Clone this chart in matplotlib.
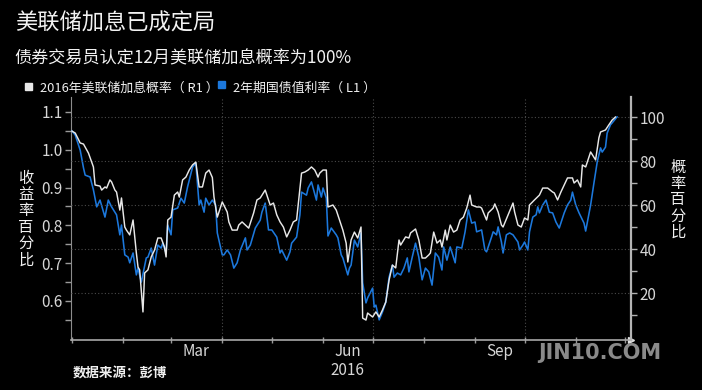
import matplotlib
matplotlib.use('Agg')
import matplotlib.pyplot as plt
import matplotlib.dates as mdates
import matplotlib.ticker as mticker
from matplotlib.patches import Rectangle
import pandas as pd

plt.rcParams['font.family'] = ['Noto Sans CJK SC', 'DejaVu Sans']

# days counted from 2016-01-01
prob_days = [0, 2, 5, 7, 10, 13, 14, 17, 18, 20, 21, 23, 24, 26, 27, 29, 30, 32, 33, 35,
             37, 39, 40, 41, 43, 44, 46, 48, 50, 52, 54, 56, 57, 58, 60, 62, 64, 65, 67, 69,
             71, 73, 75, 77, 79, 81, 83, 85, 86, 88, 89, 91, 94, 95, 97, 100, 101, 103, 105, 107,
             110, 112, 114, 117, 118, 120, 122, 124, 126, 128, 130, 132, 134, 136, 139, 141, 143, 145, 147, 149,
             150, 152, 154, 155, 158, 160, 162, 164, 166, 167, 169, 171, 173, 175, 176, 178, 179, 182, 184, 186,
             188, 190, 192, 194, 196, 198, 199, 202, 204, 205, 208, 210, 212, 214, 216, 217, 219, 221, 223, 224,
             226, 227, 229, 231, 233, 235, 237, 239, 241, 242, 245, 247, 248, 251, 252, 255, 256, 258, 260, 261,
             264, 267, 268, 270, 272, 274, 276, 277, 280, 283, 285, 288, 291, 292, 294, 296, 298, 300, 303, 304,
             306, 308, 309, 311, 314, 317, 319, 320, 323, 325, 327, 329]
prob_vals = [93.6, 92.7, 88.2, 87.7, 83.6, 77.3, 69.1, 68.6, 66.8, 68.2, 67.7, 71.4, 70.5, 66.8, 65.9, 57.7, 63.2, 50.0, 48.6, 46.4,
             53.2, 38.2, 31.8, 30.5, 11.4, 29.1, 30.5, 36.4, 39.5, 45.0, 45.0, 40.9, 36.4, 53.2, 54.5, 64.5, 65.9, 63.6, 71.4, 72.7,
             75.9, 78.2, 79.5, 68.2, 68.2, 74.5, 75.9, 72.5, 63.6, 54.5, 56.8, 61.4, 56.8, 52.3, 48.6, 48.6, 50.9, 52.3, 50.9, 49.5,
             56.4, 62.3, 63.2, 66.8, 64.5, 60.0, 60.9, 55.5, 52.3, 50.0, 45.5, 48.6, 52.3, 53.2, 74.5, 75.0, 75.9, 77.3, 75.9, 72.7,
             74.5, 75.9, 75.9, 59.1, 60.0, 57.7, 53.2, 48.6, 42.7, 34.1, 44.1, 47.7, 45.0, 50.0, 8.6, 7.7, 10.9, 9.1, 11.4, 9.1,
             12.3, 15.9, 25.9, 32.7, 31.4, 44.1, 41.8, 45.5, 45.0, 47.3, 49.1, 44.1, 35.9, 35.9, 37.3, 38.2, 47.7, 42.7, 44.1, 40.9,
             48.6, 44.1, 50.9, 47.7, 48.6, 53.2, 54.5, 58.6, 64.5, 60.0, 59.1, 59.1, 58.6, 53.2, 56.4, 58.6, 60.5, 56.8, 50.9, 50.0,
             55.5, 60.9, 56.8, 50.9, 50.0, 54.1, 53.2, 60.0, 62.3, 64.5, 67.7, 67.7, 65.9, 65.5, 62.3, 65.9, 69.1, 72.3, 72.3, 70.0,
             71.4, 68.2, 78.2, 77.3, 84.1, 80.5, 90.5, 93.2, 94.1, 96.4, 98.6, 100.0]

yield_days = [0, 2, 5, 7, 8, 11, 13, 15, 17, 20, 22, 24, 27, 29, 30, 32, 34, 35, 37, 39,
              40, 42, 45, 46, 48, 50, 52, 54, 55, 57, 58, 60, 61, 64, 66, 68, 70, 73, 75, 77,
              78, 80, 81, 83, 85, 87, 88, 91, 92, 94, 96, 98, 100, 102, 105, 106, 108, 111, 114, 115,
              117, 119, 121, 124, 126, 127, 130, 132, 133, 136, 138, 139, 142, 143, 145, 148, 149, 151, 152, 154,
              155, 157, 160, 161, 163, 164, 167, 168, 169, 171, 173, 175, 176, 178, 179, 182, 183, 184, 186, 188,
              190, 192, 194, 195, 197, 199, 201, 203, 204, 206, 208, 210, 212, 214, 216, 218, 220, 222, 224, 225,
              227, 229, 232, 233, 236, 238, 240, 242, 244, 245, 248, 250, 251, 254, 255, 257, 258, 260, 261, 263,
              265, 267, 270, 271, 273, 274, 276, 277, 279, 281, 282, 283, 285, 287, 289, 291, 293, 295, 297, 298,
              300, 302, 303, 305, 307, 310, 311, 314, 316, 318, 320, 321, 323, 324, 326, 327, 330]
yield_vals = [1.050, 1.039, 0.999, 0.952, 0.933, 0.928, 0.894, 0.849, 0.867, 0.822, 0.867, 0.849, 0.828, 0.775, 0.801, 0.722, 0.716, 0.701, 0.727, 0.669,
              0.687, 0.650, 0.714, 0.716, 0.740, 0.695, 0.748, 0.740, 0.753, 0.727, 0.801, 0.775, 0.841, 0.846, 0.872, 0.859, 0.902, 0.954, 0.965, 0.854,
              0.867, 0.835, 0.872, 0.854, 0.867, 0.854, 0.780, 0.722, 0.722, 0.735, 0.722, 0.687, 0.701, 0.735, 0.767, 0.735, 0.748, 0.793, 0.814, 0.835,
              0.859, 0.788, 0.788, 0.769, 0.727, 0.735, 0.708, 0.730, 0.753, 0.769, 0.828, 0.888, 0.880, 0.899, 0.915, 0.867, 0.907, 0.875, 0.899, 0.872,
              0.772, 0.793, 0.775, 0.767, 0.722, 0.714, 0.669, 0.687, 0.695, 0.761, 0.743, 0.780, 0.648, 0.595, 0.608, 0.634, 0.584, 0.589, 0.550, 0.571,
              0.597, 0.663, 0.695, 0.663, 0.674, 0.669, 0.687, 0.714, 0.677, 0.716, 0.753, 0.716, 0.656, 0.687, 0.677, 0.642, 0.727, 0.716, 0.682, 0.743,
              0.708, 0.743, 0.701, 0.743, 0.740, 0.783, 0.841, 0.806, 0.809, 0.783, 0.788, 0.735, 0.730, 0.769, 0.783, 0.775, 0.796, 0.756, 0.727, 0.775,
              0.780, 0.775, 0.756, 0.735, 0.748, 0.756, 0.735, 0.783, 0.822, 0.828, 0.849, 0.833, 0.854, 0.867, 0.835, 0.833, 0.809, 0.793, 0.820, 0.833,
              0.854, 0.867, 0.888, 0.854, 0.833, 0.806, 0.785, 0.854, 0.912, 0.968, 1.005, 0.994, 1.007, 1.044, 1.066, 1.071, 1.087]

title = '美联储加息已成定局'
subtitle = '债券交易员认定12月美联储加息概率为100%'
prob_label = '2016年美联储加息概率（ R1 ）'
yield_label = '2年期国债值利率（ L1 ）'
left_title = '收益率百分比'
right_title = '概率百分比'
source = '数据来源：彭博'
month_labels = ['Mar', 'Jun\n2016', 'Sep']
month_label_dates = ['2016-03-16', '2016-06-16', '2016-09-16']
quarter_dates = ['2016-04-01', '2016-07-01', '2016-10-01']
left_ticks = [0.6, 0.7, 0.8, 0.9, 1.0, 1.1]
left_minor = [0.55, 0.65, 0.75, 0.85, 0.95, 1.05]
right_ticks = [20, 40, 60, 80, 100]
right_minor = [10, 30, 50, 70, 90]

WHITE = '#e8e8e8'
BLUE = '#1c78dc'
TICK = '#d6d6d6'
GRID = '#4a4a4a'

start = pd.Timestamp('2016-01-01')
prob_dates = start + pd.to_timedelta(prob_days, unit='D')
yield_dates = start + pd.to_timedelta(yield_days, unit='D')

fig = plt.figure(figsize=(7.02, 3.9), dpi=100, facecolor='black')
ax = fig.add_axes([0.1011, 0.1282, 0.7977, 0.6231])
ax.set_facecolor('black')
ax2 = ax.twinx()

ax.plot(yield_dates, yield_vals, color=BLUE, lw=1.15, zorder=3)
ax2.plot(prob_dates, prob_vals, color=WHITE, lw=1.05, zorder=3)

ax.set_xlim(start - pd.Timedelta(hours=14), start + pd.Timedelta(days=338, hours=10))
ax.set_ylim(0.4968, 1.1397)
ax2.set_ylim(-1.36, 109.1)

# left axis
ax.set_yticks(left_ticks)
ax.set_yticks(left_minor, minor=True)
ax.yaxis.set_major_formatter(mticker.FormatStrFormatter('%.1f'))
ax.tick_params(axis='y', which='both', direction='out', length=4, width=1,
               color='#9a9a9a', labelcolor=TICK, labelsize=11, pad=2)

# right axis
ax2.set_yticks(right_ticks)
ax2.set_yticks(right_minor, minor=True)
ax2.tick_params(axis='y', which='both', direction='out', length=4, width=1,
                color='#b0b0b0', labelcolor=TICK, labelsize=11, pad=2)
ax2.yaxis.grid(True, which='major', color=GRID, linestyle=(0, (1, 2)), lw=0.8)
ax2.set_axisbelow(True)

# x axis: month ticks, labels mid-month
ax.xaxis.set_major_locator(mdates.MonthLocator())
ax.xaxis.set_major_formatter(mticker.NullFormatter())
ax.xaxis.set_minor_locator(mticker.FixedLocator(mdates.date2num(pd.to_datetime(month_label_dates))))
ax.xaxis.set_minor_formatter(mticker.FixedFormatter(month_labels))
ax.tick_params(axis='x', which='major', direction='inout', length=5, width=1, color='#9a9a9a')
ax.tick_params(axis='x', which='minor', length=0, labelcolor=TICK, labelsize=11, pad=2)
for d in quarter_dates:
    ax.axvline(pd.Timestamp(d), color=GRID, linestyle=(0, (1, 2)), lw=0.8, zorder=1)

for a in (ax, ax2):
    a.spines['top'].set_visible(False)
ax.spines['left'].set_color('#8c8c8c')
ax.spines['bottom'].set_color('#a8a8a8')
ax.spines['bottom'].set_linewidth(1.2)
ax2.spines['left'].set_visible(False)
ax2.spines['bottom'].set_visible(False)
ax2.spines['right'].set_color('#b4b4b4')
ax2.spines['right'].set_linewidth(1.6)
ax.plot([1], [0], marker='>', ms=5, color='#e0e0e0', transform=ax.transAxes, clip_on=False)

# titles
fig.text(0.021, 0.941, title, color='#f2f2f2', fontsize=16, va='center', ha='left')
fig.text(0.021, 0.851, subtitle, color='#f2f2f2', fontsize=12.3, va='center', ha='left')

# legend
fig.patches.append(Rectangle((25 / 702, 1 - 90 / 390), 6.5 / 702, 6.5 / 390,
                             transform=fig.transFigure, color=WHITE))
fig.text(40 / 702, 1 - 88 / 390, prob_label, color='#f0f0f0', fontsize=9.3, va='center', ha='left')
fig.patches.append(Rectangle((218 / 702, 1 - 88 / 390), 6.5 / 702, 6.5 / 390,
                             transform=fig.transFigure, color=BLUE))
fig.text(233 / 702, 1 - 88 / 390, yield_label, color='#f0f0f0', fontsize=9.3, va='center', ha='left')

# axis titles, stacked characters
fig.text(26 / 702, 1 - 219 / 390, '\n'.join(left_title), color='#f0f0f0', fontsize=11,
         va='center', ha='center', linespacing=0.95)
fig.text(678 / 702, 1 - 200 / 390, '\n'.join(right_title), color='#f0f0f0', fontsize=11,
         va='center', ha='center', linespacing=0.95)

fig.text(73 / 702, 1 - 374 / 390, source, color='#f0f0f0', fontsize=9.7, fontweight='bold',
         va='center', ha='left')
fig.text(600 / 702, 1 - 353 / 390, 'JIN10.COM', color='#8a8a8a', fontsize=15,
         fontweight='bold', family=['DejaVu Sans'], va='center', ha='center')

fig.savefig('out.png', dpi=100, facecolor='black')
